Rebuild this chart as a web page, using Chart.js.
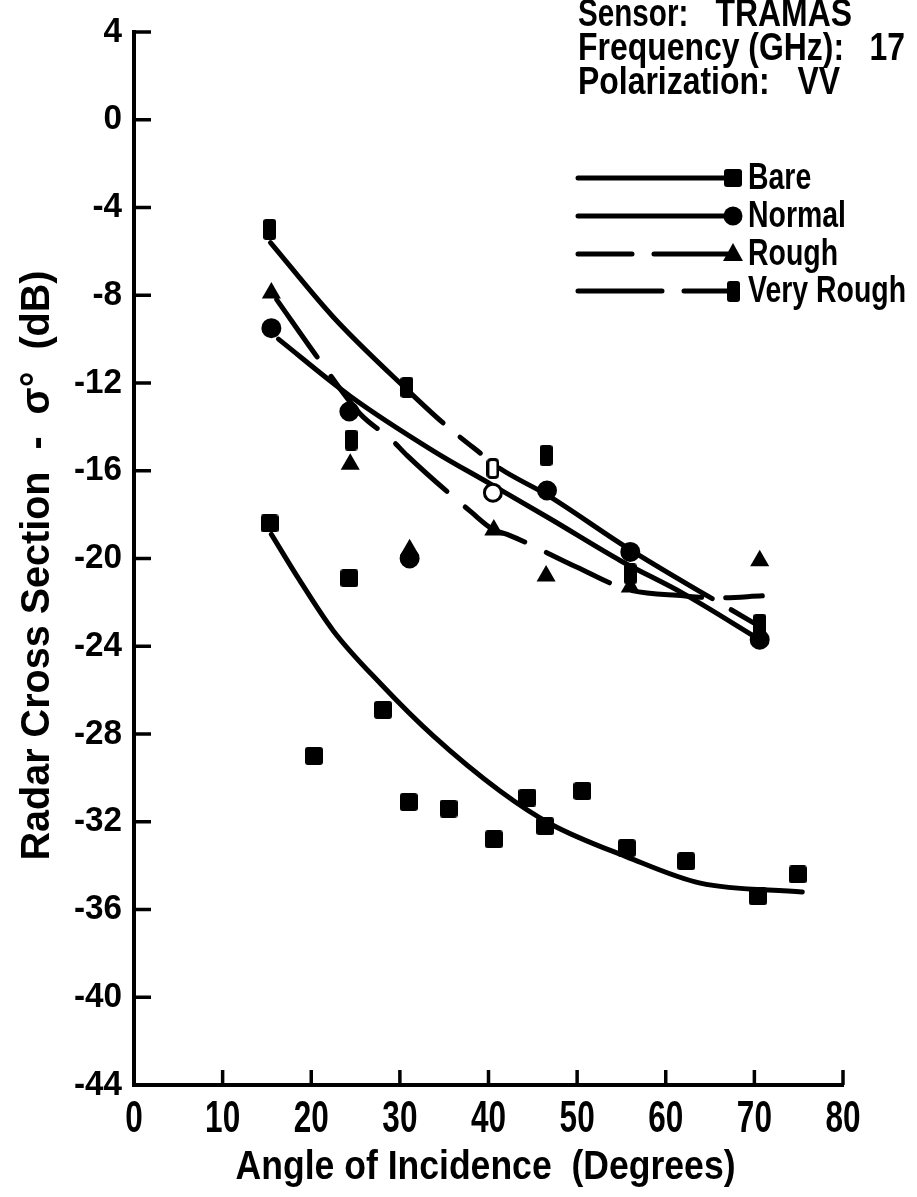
<!DOCTYPE html>
<html>
<head>
<meta charset="utf-8">
<script src="https://cdn.jsdelivr.net/npm/chart.js@4.4.0/dist/chart.umd.min.js"></script>
<style>
  html, body { margin: 0; padding: 0; background: #fff; }
  #wrap { width: 917px; height: 1197px; }
</style>
</head>
<body>
<div id="wrap"><canvas id="chart" width="917" height="1197"></canvas></div>
<script>
// Axis ticks
const xTicks = [0, 10, 20, 30, 40, 50, 60, 70, 80];
const yTicks = [4, 0, -4, -8, -12, -16, -20, -24, -28, -32, -36, -40, -44];

// Measured points (angle in degrees, sigma in dB)
const bareAngle = [15.3, 20.3, 24.3, 28.1, 31.0, 35.5, 40.6, 44.4, 46.4, 50.6, 55.6, 62.3, 70.4, 74.9];
const bareDb    = [-18.4, -29.0, -20.9, -26.9, -31.1, -31.4, -32.8, -30.9, -32.2, -30.6, -33.2, -33.8, -35.4, -34.4];

const normalAngle = [15.5, 24.3, 31.1, 40.5, 46.6, 56.0, 70.6];
const normalDb    = [-9.5, -13.3, -20.0, -17.0, -16.9, -19.7, -23.7];

const roughAngle = [15.5, 24.4, 31.1, 40.6, 46.5, 56.0, 70.6];
const roughDb    = [-7.9, -15.7, -19.6, -18.7, -20.8, -21.3, -20.1];

const veryRoughAngle = [15.3, 24.5, 30.8, 40.5, 46.5, 56.0, 70.6];
const veryRoughDb    = [-5.0, -14.6, -12.2, -15.9, -15.3, -20.7, -23.0];

// Hand-drawn fit curves
const bareFitAngle = [15.5, 18.7, 22.5, 27.8, 33.8, 41.3, 47.0, 55.6, 63.9, 75.4];
const bareFitDb    = [-18.9, -21.0, -23.3, -25.7, -28.1, -30.6, -32.1, -33.6, -34.8, -35.2];

const normalFitAngle = [16.3, 24.4, 33.8, 40.2, 47.0, 54.9, 62.0, 70.6];
const normalFitDb    = [-10.0, -12.6, -15.1, -16.6, -18.2, -20.1, -21.6, -23.7];

const roughFitAngle = [16.1, 21.0, 25.5, 29.1, 30.8, 38.1, 40.6, 42.1, 50.0, 55.6, 62.0, 65.8, 70.9];
const roughFitDb    = [-8.2, -11.0, -13.4, -14.6, -15.3, -17.9, -18.7, -18.9, -20.4, -21.4, -21.7, -21.8, -21.7];

const veryRoughFitAngle = [15.4, 22.5, 30.8, 35.1, 39.4, 41.3, 46.6, 55.6, 70.6];
const veryRoughFitDb    = [-5.6, -9.0, -12.3, -13.9, -15.3, -15.9, -17.1, -19.5, -23.1];

const FONT = "'Liberation Sans', Arimo, Arial, sans-serif";

function toXY(xs, ys) {
  return xs.map((x, i) => ({ x: x, y: ys[i] }));
}

// condensed text: squeeze horizontally by a factor
function drawText(ctx, text, x, y, o) {
  ctx.save();
  ctx.font = 'bold ' + o.size + 'px ' + FONT;
  ctx.fillStyle = '#000';
  ctx.textAlign = o.align || 'left';
  ctx.textBaseline = o.baseline || 'middle';
  ctx.translate(x, y);
  if (o.rotate) ctx.rotate(-Math.PI / 2);
  const w = ctx.measureText(text).width;
  const sx = o.width ? o.width / w : (o.sx || 1);
  ctx.scale(sx, 1);
  ctx.fillText(text, 0, 0);
  ctx.restore();
}

// marker images (rounded squares / tall bars like in the scan)
function makeBox(w, h, hollow) {
  const c = document.createElement('canvas');
  c.width = w; c.height = h;
  const g = c.getContext('2d');
  g.beginPath();
  if (hollow) {
    g.roundRect(1.5, 1.5, w - 3, h - 3, 3);
    g.fillStyle = '#fff';
    g.fill();
    g.lineWidth = 3;
    g.strokeStyle = '#000';
    g.stroke();
  } else {
    g.roundRect(0, 0, w, h, 3);
    g.fillStyle = '#000';
    g.fill();
  }
  return c;
}
const squareImg = makeBox(18, 18, false);
const barImg = makeBox(13, 21, false);
const barHollowImg = makeBox(13, 21, true);

const veryRoughStyles = veryRoughAngle.map((a, i) => (i === 3 ? barHollowImg : barImg));
const normalFill = normalAngle.map((a, i) => (i === 3 ? '#fff' : '#000'));

// inward tick marks, axis texts and the legend block
const decorations = {
  id: 'decorations',
  afterDraw(chart) {
    const ctx = chart.ctx;
    const xs = chart.scales.x, ys = chart.scales.y;
    const area = chart.chartArea;
    ctx.save();
    ctx.strokeStyle = '#000';
    ctx.fillStyle = '#000';
    ctx.lineWidth = 3.5;
    ctx.lineCap = 'butt';
    yTicks.forEach(v => {
      const py = ys.getPixelForValue(v);
      if (v !== -44) {
        ctx.beginPath();
        ctx.moveTo(area.left, py);
        ctx.lineTo(area.left + 17, py);
        ctx.stroke();
      }
      drawText(ctx, String(v), area.left - 12, py, { size: 35, align: 'right', sx: 0.95 });
    });
    xTicks.forEach(v => {
      const px = xs.getPixelForValue(v);
      if (v !== 0) {
        ctx.beginPath();
        ctx.moveTo(px, area.bottom);
        ctx.lineTo(px, area.bottom - 15);
        ctx.stroke();
      }
      drawText(ctx, String(v), px, area.bottom + 35, { size: 45, align: 'center', sx: 0.7 });
    });

    // axis titles
    drawText(ctx, 'Angle of Incidence  (Degrees)', (area.left + area.right) / 2 - 3, 1168,
      { size: 40, align: 'center', width: 500 });
    drawText(ctx, 'Radar Cross Section  -  σ°  (dB)', 38, (area.top + area.bottom) / 2 + 7,
      { size: 40, align: 'center', width: 590, rotate: true });

    // header text
    const hs = { size: 38, sx: 0.84 };
    drawText(ctx, 'Sensor:', 578, 16, { size: 38, sx: 0.78 });
    drawText(ctx, 'TRAMAS', 852, 16, Object.assign({ align: 'right' }, hs));
    drawText(ctx, 'Frequency (GHz):', 578, 50, hs);
    drawText(ctx, '17', 905, 50, Object.assign({ align: 'right' }, hs));
    drawText(ctx, 'Polarization:', 578, 84, hs);
    drawText(ctx, 'VV', 840, 84, Object.assign({ align: 'right' }, hs));

    // legend entries
    const entries = [
      { label: 'Bare', y: 178, dash: [], marker: 'square' },
      { label: 'Normal', y: 216, dash: [], marker: 'circle' },
      { label: 'Rough', y: 254, dash: [54, 22, 200], marker: 'triangle' },
      { label: 'Very Rough', y: 291, dash: [84, 22, 200], marker: 'bar' }
    ];
    const mx = 733;
    entries.forEach(e => {
      ctx.save();
      ctx.lineWidth = 5;
      ctx.lineCap = 'round';
      ctx.setLineDash(e.dash);
      ctx.beginPath();
      ctx.moveTo(578, e.y);
      ctx.lineTo(mx - 4, e.y);
      ctx.stroke();
      ctx.restore();
      if (e.marker === 'square') {
        ctx.drawImage(squareImg, mx - 9, e.y - 9);
      } else if (e.marker === 'bar') {
        ctx.drawImage(barImg, mx - 6, e.y - 10);
      } else if (e.marker === 'circle') {
        ctx.beginPath();
        ctx.arc(mx, e.y, 9.5, 0, Math.PI * 2);
        ctx.fill();
      } else {
        ctx.beginPath();
        ctx.moveTo(mx, e.y - 11);
        ctx.lineTo(mx + 10, e.y + 7);
        ctx.lineTo(mx - 10, e.y + 7);
        ctx.closePath();
        ctx.fill();
      }
      drawText(ctx, e.label, 748, e.y + 1, { size: 36, sx: 0.79 });
    });
    ctx.restore();
  }
};

const fitLine = {
  showLine: true,
  pointRadius: 0,
  pointHoverRadius: 0,
  borderColor: '#000',
  borderWidth: 5,
  borderCapStyle: 'round',
  borderJoinStyle: 'round',
  cubicInterpolationMode: 'monotone',
  fill: false
};

new Chart(document.getElementById('chart'), {
  type: 'scatter',
  data: {
    datasets: [
      {
        label: 'Bare',
        data: toXY(bareAngle, bareDb),
        pointStyle: squareImg,
        pointRadius: 9,
        backgroundColor: '#000',
        borderColor: '#000'
      },
      {
        label: 'Normal',
        data: toXY(normalAngle, normalDb),
        pointStyle: 'circle',
        pointRadius: 8.5,
        pointBorderWidth: 3,
        pointBackgroundColor: normalFill,
        pointBorderColor: '#000'
      },
      {
        label: 'Rough',
        data: toXY(roughAngle, roughDb),
        pointStyle: 'triangle',
        pointRadius: 11,
        pointBorderWidth: 0,
        backgroundColor: '#000',
        borderColor: '#000'
      },
      {
        label: 'Very Rough',
        data: toXY(veryRoughAngle, veryRoughDb),
        pointStyle: veryRoughStyles,
        pointRadius: 10,
        backgroundColor: '#000',
        borderColor: '#000'
      },
      Object.assign({ label: 'Bare fit', data: toXY(bareFitAngle, bareFitDb) }, fitLine),
      Object.assign({ label: 'Normal fit', data: toXY(normalFitAngle, normalFitDb) }, fitLine),
      Object.assign({ label: 'Rough fit', data: toXY(roughFitAngle, roughFitDb), borderDash: [70, 24] }, fitLine),
      Object.assign({ label: 'Very Rough fit', data: toXY(veryRoughFitAngle, veryRoughFitDb), borderDash: [250, 22, 26, 24] }, fitLine)
    ]
  },
  options: {
    responsive: false,
    devicePixelRatio: 1,
    animation: false,
    layout: { padding: { top: 32, right: 74, left: 0, bottom: 0 } },
    plugins: {
      legend: { display: false },
      tooltip: { enabled: false }
    },
    scales: {
      x: {
        type: 'linear',
        min: 0,
        max: 80,
        afterFit(scale) { scale.height = 112; },
        afterBuildTicks(scale) { scale.ticks = xTicks.map(v => ({ value: v })); },
        grid: { display: false, drawTicks: false },
        border: { display: true, color: '#000', width: 4 },
        ticks: { display: false },
        title: { display: false }
      },
      y: {
        type: 'linear',
        min: -44,
        max: 4,
        afterFit(scale) { scale.width = 134; },
        afterBuildTicks(scale) { scale.ticks = yTicks.map(v => ({ value: v })); },
        grid: { display: false, drawTicks: false },
        border: { display: true, color: '#000', width: 4 },
        ticks: { display: false },
        title: { display: false }
      }
    }
  },
  plugins: [decorations]
});
</script>
</body>
</html>
